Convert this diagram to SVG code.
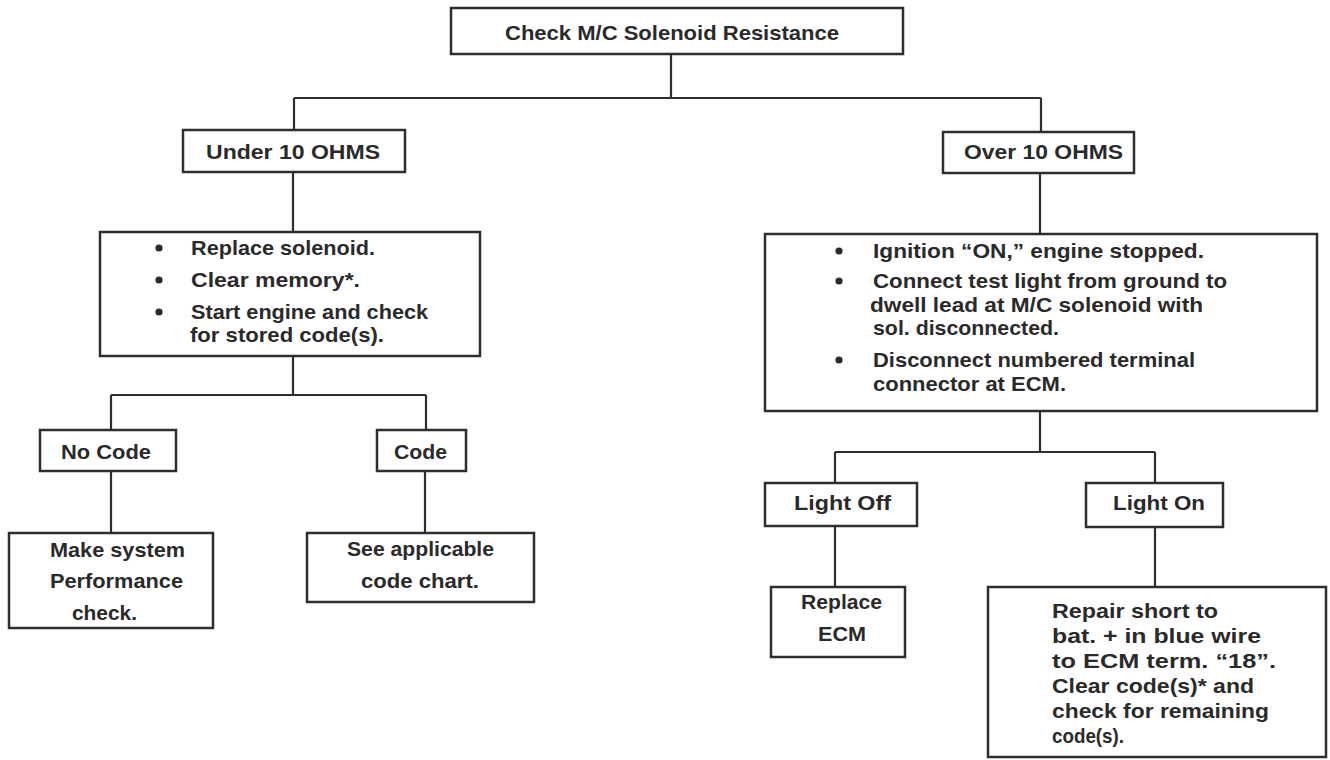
<svg xmlns="http://www.w3.org/2000/svg" width="1330" height="760" viewBox="0 0 1330 760">
<style>
.box{fill:#fff;stroke:#2e2e2e;stroke-width:2.5}
.ln{fill:none;stroke:#2e2e2e;stroke-width:2.2}
text{font-family:"Liberation Sans",Arial,sans-serif;font-size:21px;font-weight:bold;fill:#2a2a2a}
.b{fill:#2a2a2a}
</style>
<rect width="1330" height="760" fill="#fff"/>
<g id="connectors">
<path class="ln" d="M671 54V98M294 98H1041M294 98V130M1041 98V132"/>
<path class="ln" d="M293 172V232M1040 173V234"/>
<path class="ln" d="M293 356V395M111 395H426M111 395V430M426 395V430"/>
<path class="ln" d="M111 471V533M425 471V533"/>
<path class="ln" d="M1040 411V452M835 452H1155M835 452V483M1155 452V483"/>
<path class="ln" d="M835 526V587M1155 527V587"/>
</g>
<g id="n-title">
<rect class="box" x="451" y="8" width="452" height="46"/>
<text x="505" y="40" textLength="334" lengthAdjust="spacingAndGlyphs">Check M/C Solenoid Resistance</text>
</g>
<g id="n-under">
<rect class="box" x="183" y="130" width="222" height="42"/>
<text x="206" y="159" textLength="174" lengthAdjust="spacingAndGlyphs">Under 10 OHMS</text>
</g>
<g id="n-over">
<rect class="box" x="943" y="132" width="191" height="41"/>
<text x="964" y="159" textLength="159" lengthAdjust="spacingAndGlyphs">Over 10 OHMS</text>
</g>
<g id="n-replace-solenoid">
<rect class="box" x="100" y="232" width="380" height="124"/>
<circle class="b" cx="159" cy="248" r="3.6"/>
<circle class="b" cx="159" cy="280" r="3.6"/>
<circle class="b" cx="159" cy="312" r="3.6"/>
<text x="191" y="255" textLength="184" lengthAdjust="spacingAndGlyphs">Replace solenoid.</text>
<text x="191" y="287" textLength="169" lengthAdjust="spacingAndGlyphs">Clear memory*.</text>
<text x="191" y="319" textLength="237" lengthAdjust="spacingAndGlyphs">Start engine and check</text>
<text x="190" y="342" textLength="194" lengthAdjust="spacingAndGlyphs">for stored code(s).</text>
</g>
<g id="n-ignition">
<rect class="box" x="765" y="234" width="552" height="177"/>
<circle class="b" cx="839" cy="251" r="3.6"/>
<circle class="b" cx="839" cy="281" r="3.6"/>
<circle class="b" cx="839" cy="360" r="3.6"/>
<text x="873" y="258" textLength="331" lengthAdjust="spacingAndGlyphs">Ignition “ON,” engine stopped.</text>
<text x="873" y="288" textLength="354" lengthAdjust="spacingAndGlyphs">Connect test light from ground to</text>
<text x="870" y="312" textLength="333" lengthAdjust="spacingAndGlyphs">dwell lead at M/C solenoid with</text>
<text x="873" y="335" textLength="186" lengthAdjust="spacingAndGlyphs">sol. disconnected.</text>
<text x="873" y="367" textLength="322" lengthAdjust="spacingAndGlyphs">Disconnect numbered terminal</text>
<text x="873" y="391" textLength="193" lengthAdjust="spacingAndGlyphs">connector at ECM.</text>
</g>
<g id="n-nocode">
<rect class="box" x="40" y="430" width="136" height="41"/>
<text x="61" y="459" textLength="90" lengthAdjust="spacingAndGlyphs">No Code</text>
</g>
<g id="n-code">
<rect class="box" x="377" y="430" width="89" height="41"/>
<text x="394" y="459" textLength="53" lengthAdjust="spacingAndGlyphs">Code</text>
</g>
<g id="n-make-system">
<rect class="box" x="9" y="533" width="204" height="95"/>
<text x="50" y="557" textLength="135" lengthAdjust="spacingAndGlyphs">Make system</text>
<text x="50" y="588" textLength="133" lengthAdjust="spacingAndGlyphs">Performance</text>
<text x="72" y="620" textLength="65" lengthAdjust="spacingAndGlyphs">check.</text>
</g>
<g id="n-see-chart">
<rect class="box" x="307" y="533" width="227" height="69"/>
<text x="347" y="556" textLength="147" lengthAdjust="spacingAndGlyphs">See applicable</text>
<text x="361" y="588" textLength="118" lengthAdjust="spacingAndGlyphs">code chart.</text>
</g>
<g id="n-lightoff">
<rect class="box" x="765" y="483" width="152" height="43"/>
<text x="794" y="510" textLength="97" lengthAdjust="spacingAndGlyphs">Light Off</text>
</g>
<g id="n-lighton">
<rect class="box" x="1086" y="483" width="137" height="44"/>
<text x="1113" y="510" textLength="92" lengthAdjust="spacingAndGlyphs">Light On</text>
</g>
<g id="n-replace-ecm">
<rect class="box" x="771" y="587" width="134" height="70"/>
<text x="801" y="609" textLength="81" lengthAdjust="spacingAndGlyphs">Replace</text>
<text x="818" y="641" textLength="48" lengthAdjust="spacingAndGlyphs">ECM</text>
</g>
<g id="n-repair">
<rect class="box" x="988" y="587" width="338" height="170"/>
<text x="1052" y="618" textLength="166" lengthAdjust="spacingAndGlyphs">Repair short to</text>
<text x="1052" y="643" textLength="209" lengthAdjust="spacingAndGlyphs">bat. + in blue wire</text>
<text x="1052" y="668" textLength="224" lengthAdjust="spacingAndGlyphs">to ECM term. “18”.</text>
<text x="1052" y="693" textLength="202" lengthAdjust="spacingAndGlyphs">Clear code(s)* and</text>
<text x="1052" y="718" textLength="217" lengthAdjust="spacingAndGlyphs">check for remaining</text>
<text x="1052" y="743" textLength="72" lengthAdjust="spacingAndGlyphs">code(s).</text>
</g>
</svg>
